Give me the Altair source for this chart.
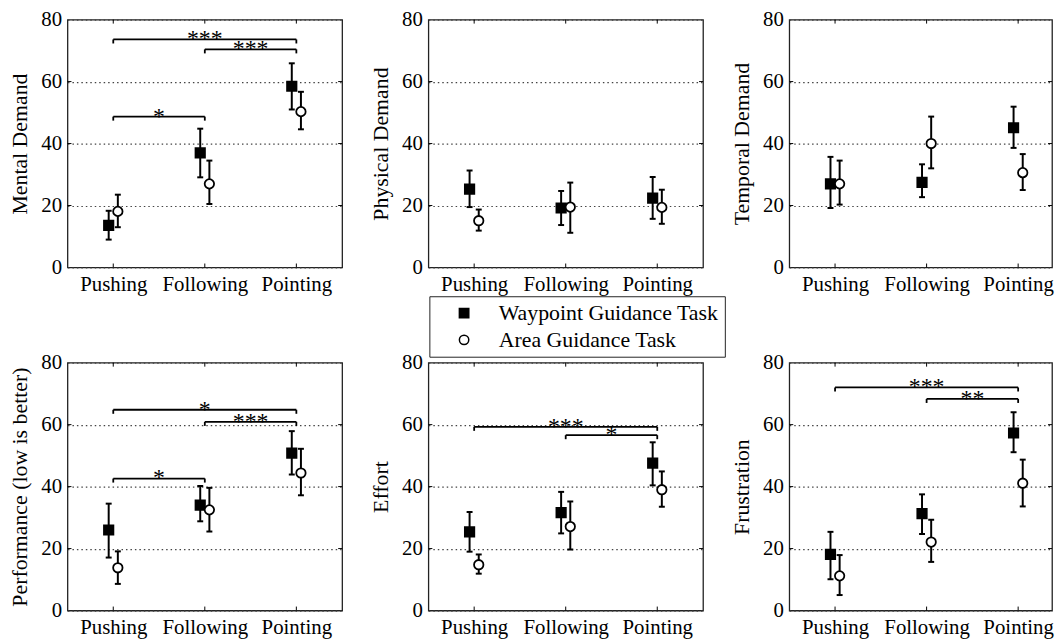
import json
import altair as alt
import pandas as pd

categories = ["Pushing", "Following", "Pointing"]
series_names = ["Waypoint Guidance Task", "Area Guidance Task"]
measures = ["Mental Demand", "Physical Demand", "Temporal Demand",
            "Performance (low is better)", "Effort", "Frustration"]

# Waypoint Guidance Task (filled squares): mean, lower, upper per measure x category
wp_mean = [[13.6, 37.0, 58.5], [25.3, 19.2, 22.4], [27.0, 27.5, 45.1],
           [26.0, 34.0, 50.8], [25.4, 31.6, 47.6], [18.1, 31.3, 57.3]]
wp_lo = [[9.0, 29.1, 51.0], [19.5, 13.7, 15.7], [19.2, 22.7, 38.6],
         [17.1, 28.8, 43.9], [19.0, 24.9, 40.4], [10.1, 24.7, 51.1]]
wp_hi = [[18.3, 44.8, 65.9], [31.3, 24.7, 29.2], [35.7, 33.3, 51.9],
         [34.5, 40.2, 57.9], [31.8, 38.3, 54.3], [25.4, 37.5, 64.0]]

# Area Guidance Task (open circles)
ag_mean = [[18.1, 27.0, 50.3], [15.1, 19.5, 19.4], [27.0, 40.0, 30.6],
           [13.8, 32.5, 44.4], [14.8, 27.1, 39.0], [11.2, 22.1, 41.1]]
ag_lo = [[13.0, 20.5, 44.6], [11.9, 11.2, 14.1], [20.3, 32.0, 25.0],
         [8.6, 25.5, 37.2], [11.9, 19.7, 33.5], [5.0, 15.7, 33.6]]
ag_hi = [[23.5, 34.5, 56.7], [18.7, 27.4, 25.1], [34.5, 48.7, 36.6],
         [19.1, 39.6, 52.2], [18.1, 35.2, 44.9], [17.9, 29.3, 48.7]]

# significance brackets
br_measure = [0, 0, 0, 3, 3, 3, 4, 4, 5, 5]
br_from = [1, 2, 1, 1, 2, 1, 1, 2, 1, 2]
br_to = [3, 3, 2, 3, 3, 2, 3, 3, 3, 3]
br_y = [73.6, 70.4, 48.7, 64.8, 60.9, 42.6, 59.3, 56.6, 72.0, 68.3]
br_label = ["***", "***", "*", "*", "***", "*", "***", "*", "***", "**"]

y_ticks = [0, 20, 40, 60, 80]
x_ticks = [1, 2, 3]

FONT = "Liberation Serif"

rows = []
for m, name in enumerate(measures):
    for c in range(3):
        rows.append(dict(measure=m, idx=c + 1, series=series_names[0],
                         mean=wp_mean[m][c], lo=wp_lo[m][c], hi=wp_hi[m][c]))
        rows.append(dict(measure=m, idx=c + 1, series=series_names[1],
                         mean=ag_mean[m][c], lo=ag_lo[m][c], hi=ag_hi[m][c]))
df = pd.DataFrame(rows)
bdf = pd.DataFrame(dict(measure=br_measure, x1=br_from, x2=br_to, y=br_y, label=br_label))
tx = pd.DataFrame(dict(v=x_ticks))
ty = pd.DataFrame(dict(v=y_ticks[1:-1]))

label_expr = json.dumps(categories) + "[datum.value - 1]"
H = 250


def panel(m, width, xmax, show_legend):
    xscale = alt.Scale(domain=[0.5, xmax], nice=False, zero=False)
    yscale = alt.Scale(domain=[0, 80], nice=False, zero=False)
    xaxis = alt.Axis(values=x_ticks, labelExpr=label_expr, title=None, grid=False,
                     labelFlush=False, labelPadding=6)
    yaxis = alt.Axis(values=y_ticks, title=measures[m], grid=True, labelPadding=6,
                     titlePadding=9)

    def X(f):
        return alt.X(f, type="quantitative", scale=xscale, axis=xaxis)

    def Y(f):
        return alt.Y(f, type="quantitative", scale=yscale, axis=yaxis)

    d = df[df.measure == m]
    base = alt.Chart(d).transform_calculate(
        xpos="datum.idx + (datum.series == '%s' ? -0.05 : 0.05)" % series_names[0])

    grid_ticks_top = alt.Chart(tx).mark_rule(color="black", strokeWidth=1).encode(
        x=X("v"), y=alt.value(0), y2=alt.value(4))
    grid_ticks_bot = alt.Chart(tx).mark_rule(color="black", strokeWidth=1).encode(
        x=X("v"), y=alt.value(H), y2=alt.value(H - 4))
    grid_ticks_l = alt.Chart(ty).mark_rule(color="black", strokeWidth=1).encode(
        y=Y("v"), x=alt.value(0), x2=alt.value(4))
    grid_ticks_r = alt.Chart(ty).mark_rule(color="black", strokeWidth=1).encode(
        y=Y("v"), x=alt.value(width), x2=alt.value(width - 4))

    err = base.mark_rule(color="black", strokeWidth=2).encode(
        x=X("xpos"), y=Y("lo"), y2="hi:Q")
    caps = base.transform_fold(["lo", "hi"], as_=["end", "yv"]).mark_point(
        shape="M-1,0L1,0", size=36, strokeWidth=2, color="black", filled=False,
        opacity=1).encode(x=X("xpos"), y=Y("yv"))

    if show_legend:
        leg = alt.Legend(title=None, orient="none", legendX=1, legendY=279,
                         symbolStrokeColor="black", symbolStrokeWidth=1.5)
    else:
        leg = None
    pts = base.mark_point(size=90, strokeWidth=1.8, opacity=1,
                          filled=True).encode(
        x=X("xpos"), y=Y("mean"),
        shape=alt.Shape("series:N", scale=alt.Scale(domain=series_names,
                                                    range=["square", "circle"]),
                        legend=leg),
        fill=alt.Fill("series:N", scale=alt.Scale(domain=series_names,
                                                  range=["black", "white"]),
                      legend=leg),
        stroke=alt.Stroke("series:N", scale=alt.Scale(domain=series_names,
                                                      range=["black", "black"]),
                          legend=leg))

    layers = [grid_ticks_top, grid_ticks_bot, grid_ticks_l, grid_ticks_r, err, caps, pts]

    b = bdf[bdf.measure == m]
    if len(b):
        bc = alt.Chart(b)
        hline = bc.mark_rule(color="black", strokeWidth=1.8).encode(
            x=X("x1"), x2="x2:Q", y=Y("y"))
        ends = bc.transform_fold(["x1", "x2"], as_=["e", "xe"]).transform_calculate(
            ylow="datum.y - 1.3").mark_rule(color="black", strokeWidth=1.8).encode(
            x=X("xe"), y=Y("y"), y2="ylow:Q")
        txt = bc.transform_calculate(xm="(datum.x1 + datum.x2) / 2").mark_text(
            font=FONT, fontSize=24, baseline="alphabetic", dy=7, color="black").encode(
            x=X("xm"), y=Y("y"), text="label:N")
        layers += [hline, ends, txt]

    return alt.layer(*layers).properties(width=width, height=H)


panels = []
for m in range(6):
    last = (m % 3 == 2)
    w = 265 if last else 277
    xmax = 0.5 + 3.0 * w / 277.0
    panels.append(panel(m, w, xmax, m == 1))

chart = alt.concat(*panels, columns=3, spacing={"row": 96, "column": 87},
                   bounds="flush").resolve_scale(
    shape="independent", fill="independent", stroke="independent"
).properties(
    padding={"left": 0, "top": -3, "right": 0, "bottom": 0}
).configure(
    font=FONT
).configure_view(
    stroke="#222", strokeWidth=1.3
).configure_axis(
    labelFont=FONT, titleFont=FONT, labelFontSize=21, titleFontSize=22,
    titleFontWeight="normal", labelColor="black", titleColor="black",
    gridColor="#444", gridDash=[1.5, 3], gridWidth=1.2, domain=False, ticks=False
).configure_legend(
    labelFont=FONT, labelFontSize=22, labelColor="black", strokeColor="#222",
    padding=6, rowPadding=5, labelOffset=24, symbolOffset=18, fillColor="white",
    symbolStrokeColor="black", symbolStrokeWidth=1.5, symbolSize=90, labelLimit=400
).configure_text(font=FONT)

chart.save("out.html", embed_options={"renderer": "svg", "actions": False})
